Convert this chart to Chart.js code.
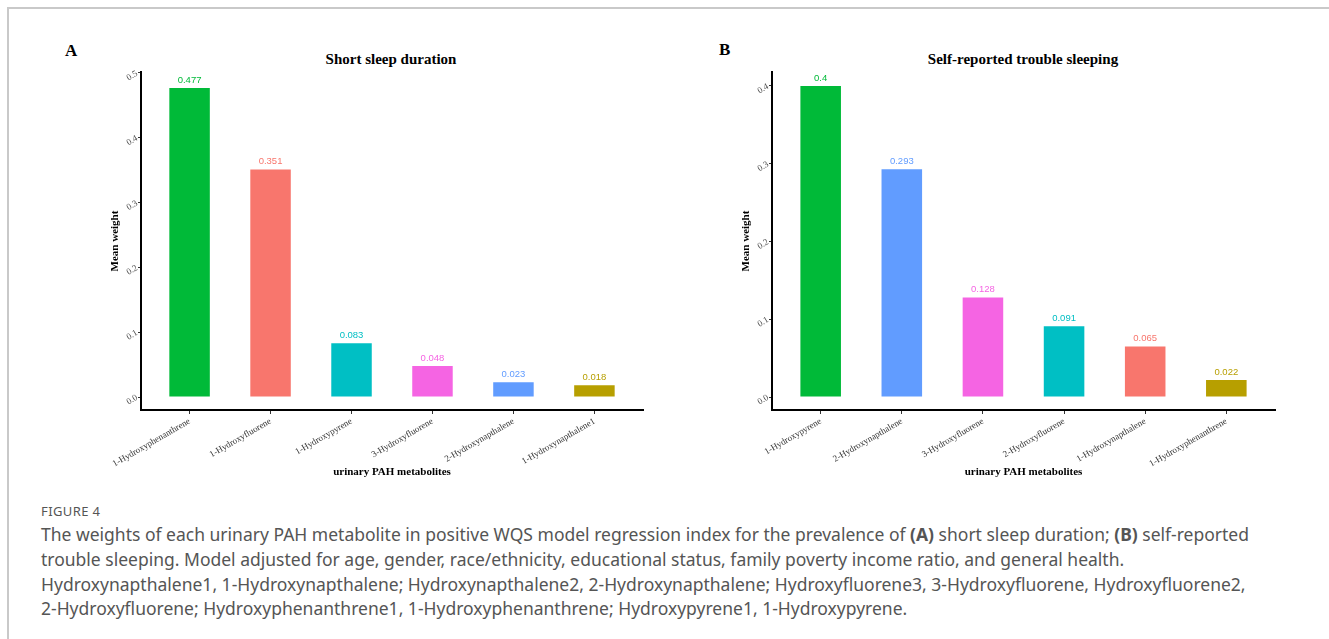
<!DOCTYPE html>
<html>
<head>
<meta charset="utf-8">
<script src="https://cdn.jsdelivr.net/npm/chart.js@4.4.0/dist/chart.umd.min.js"></script>
<style>
  body { margin: 0; background: #fff; width: 1329px; height: 639px; overflow: hidden; position: relative; }
  .frame { position: absolute; left: 7px; top: 7px; width: 1400px; height: 700px; border-top: 2px solid #c9c9c9; border-left: 2px solid #c9c9c9; }
  .box { position: absolute; }
  .letter { position: absolute; font: bold 17px "Liberation Serif", serif; color: #000; }
  .title { position: absolute; font: bold 15px "Liberation Serif", serif; color: #000; transform: translateX(-50%); white-space: nowrap; }
  .figlabel { position: absolute; left: 41px; top: 502px; font: 13px "Noto Sans", sans-serif; color: #555; letter-spacing: 0.4px; }
  .cap { position: absolute; left: 41px; font: 17.5px "Noto Sans", sans-serif; color: #555; white-space: nowrap; }
</style>
</head>
<body>
<div class="frame"></div>

<div class="letter" style="left:65px; top:41px;">A</div>
<div class="letter" style="left:719px; top:40px;">B</div>
<div class="title" style="left:391px; top:51px;">Short sleep duration</div>
<div class="title" style="left:1023px; top:51px;">Self-reported trouble sleeping</div>

<div class="box" style="left:60px; top:30px; width:600px; height:453px;"><canvas id="chartA"></canvas></div>
<div class="box" style="left:690px; top:30px; width:600px; height:453px;"><canvas id="chartB"></canvas></div>

<div class="figlabel">FIGURE 4</div>
<div class="cap" style="top:522px;">The weights of each urinary PAH metabolite in positive WQS model regression index for the prevalence of <b>(A)</b> short sleep duration; <b>(B)</b> self-reported</div>
<div class="cap" style="top:547px;">trouble sleeping. Model adjusted for age, gender, race/ethnicity, educational status, family poverty income ratio, and general health.</div>
<div class="cap" style="top:572px;">Hydroxynapthalene1, 1-Hydroxynapthalene; Hydroxynapthalene2, 2-Hydroxynapthalene; Hydroxyfluorene3, 3-Hydroxyfluorene, Hydroxyfluorene2,</div>
<div class="cap" style="top:596px;">2-Hydroxyfluorene; Hydroxyphenanthrene1, 1-Hydroxyphenanthrene; Hydroxypyrene1, 1-Hydroxypyrene.</div>

<script>
// Panel A - short sleep duration
const catsA = ['1-Hydroxyphenanthrene', '1-Hydroxyfluorene', '1-Hydroxypyrene', '3-Hydroxyfluorene', '2-Hydroxynapthalene', '1-Hydroxynapthalene1'];
const weightsA = [0.477, 0.351, 0.083, 0.048, 0.023, 0.018];
const colorsA = ['#00BA38', '#F8766D', '#00BFC4', '#F564E3', '#619CFF', '#B79F00'];
const yTicksA = [0, 0.1, 0.2, 0.3, 0.4, 0.5];

// Panel B - self-reported trouble sleeping
const catsB = ['1-Hydroxypyrene', '2-Hydroxynapthalene', '3-Hydroxyfluorene', '2-Hydroxyfluorene', '1-Hydroxynapthalene', '1-Hydroxyphenanthrene'];
const weightsB = [0.4, 0.293, 0.128, 0.091, 0.065, 0.022];
const colorsB = ['#00BA38', '#619CFF', '#F564E3', '#00BFC4', '#F8766D', '#B79F00'];
const yTicksB = [0, 0.1, 0.2, 0.3, 0.4];

// value text above each bar
const valueLabels = {
  id: 'valueLabels',
  afterDatasetsDraw(chart) {
    const ctx = chart.ctx;
    const ds = chart.data.datasets[0];
    chart.getDatasetMeta(0).data.forEach((bar, i) => {
      ctx.save();
      ctx.fillStyle = ds.backgroundColor[i];
      ctx.font = '9.5px "Liberation Sans", Arial, sans-serif';
      ctx.textAlign = 'center';
      ctx.textBaseline = 'bottom';
      ctx.fillText(String(ds.data[i].y), bar.x, bar.y - 3);
      ctx.restore();
    });
  }
};

function makeChart(id, cats, weights, colors, yTicks, yMin, yMax, padLeft, padRight) {
  const ctx = document.getElementById(id).getContext('2d');
  return new Chart(ctx, {
    type: 'bar',
    data: {
      datasets: [{
        data: weights.map((w, i) => ({ x: i, y: w })),
        backgroundColor: colors,
        borderWidth: 0,
        categoryPercentage: 1,
        barPercentage: 0.5
      }]
    },
    options: {
      responsive: true,
      maintainAspectRatio: false,
      animation: false,
      layout: { padding: { left: padLeft, right: padRight, top: 42, bottom: 0 } },
      plugins: { legend: { display: false }, tooltip: { enabled: false } },
      scales: {
        x: {
          type: 'linear',
          offset: false,
          min: -0.6,
          max: cats.length - 0.4,
          afterBuildTicks: (scale) => { scale.ticks = cats.map((c, i) => ({ value: i })); },
          afterFit: (scale) => { scale.height = 73; },
          border: { display: true, color: '#000', width: 2 },
          grid: { offset: false, drawOnChartArea: false, drawTicks: true, tickLength: 4, color: '#333', lineWidth: 1 },
          ticks: {
            autoSkip: false,
            minRotation: 30,
            maxRotation: 30,
            padding: 2,
            color: '#333',
            font: { family: '"Liberation Serif", serif', size: 9 },
            callback: (v) => cats[v]
          },
          title: {
            display: true,
            text: 'urinary PAH metabolites',
            color: '#000',
            font: { family: '"Liberation Serif", serif', size: 11, weight: 'bold' }
          }
        },
        y: {
          min: yMin,
          max: yMax,
          afterBuildTicks: (scale) => { scale.ticks = yTicks.map(v => ({ value: v })); },
          afterFit: (scale) => { scale.width = 36; },
          border: { display: true, color: '#000', width: 2 },
          grid: { drawOnChartArea: false, drawTicks: true, tickLength: 3, color: '#333', lineWidth: 1 },
          ticks: {
            minRotation: 30,
            maxRotation: 30,
            padding: 1,
            color: '#4d4d4d',
            font: { family: '"Liberation Serif", serif', size: 9 },
            callback: (v) => v.toFixed(1)
          },
          title: {
            display: true,
            text: 'Mean weight',
            color: '#000',
            font: { family: '"Liberation Serif", serif', size: 11, weight: 'bold' }
          }
        }
      }
    },
    plugins: [valueLabels]
  });
}

makeChart('chartA', catsA, weightsA, colorsA, yTicksA, -0.02, 0.5015, 45, 17);
makeChart('chartB', catsB, weightsB, colorsB, yTicksB, -0.0167, 0.418, 46, 15);
</script>
</body>
</html>
